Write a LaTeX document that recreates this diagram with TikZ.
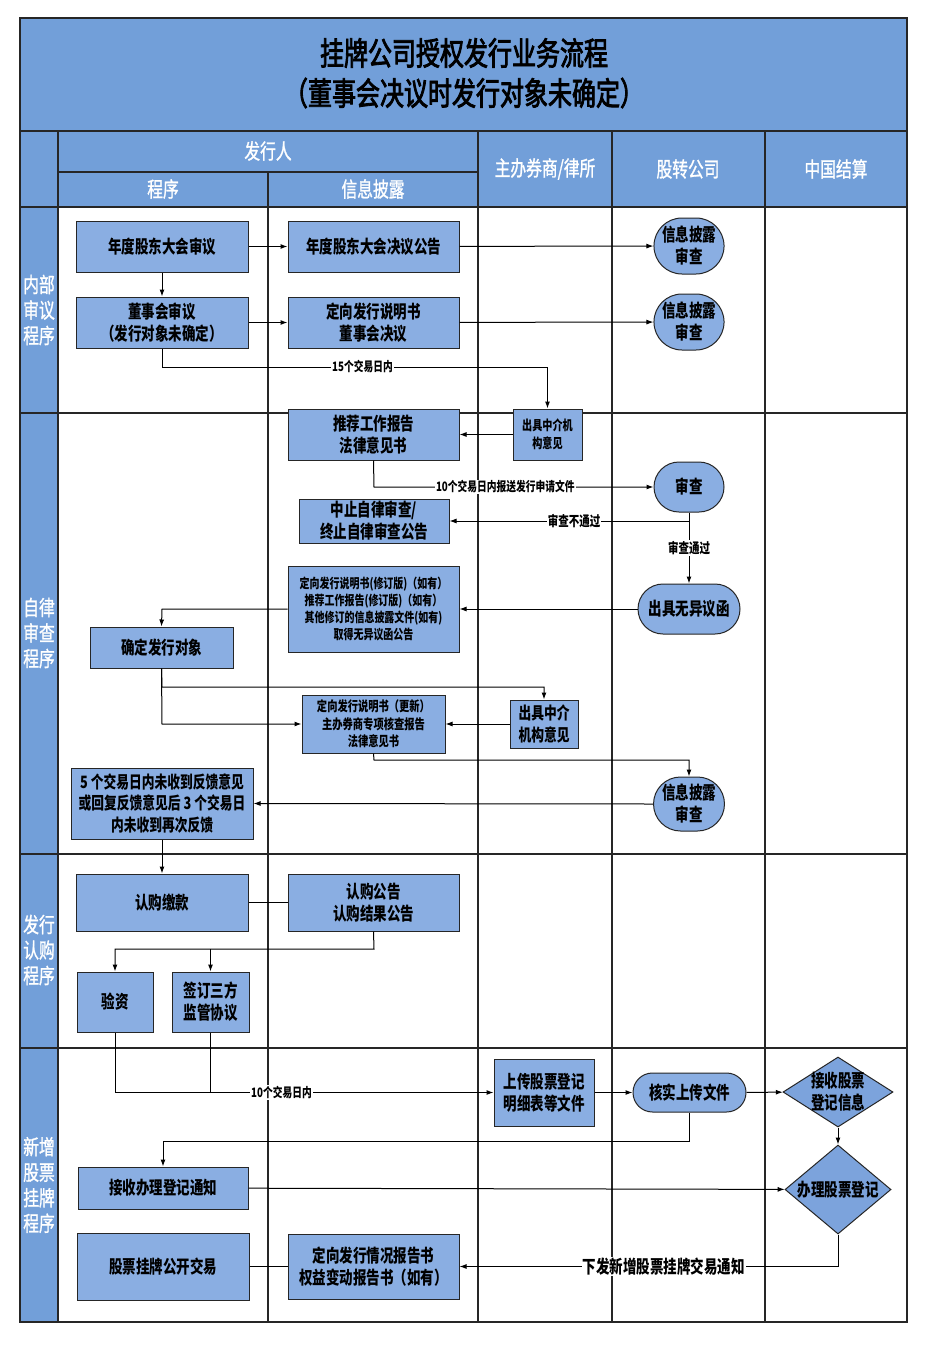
\documentclass[tikz,border=0pt]{standalone}
\usepackage{fontspec}
\setmainfont[FakeStretch=0.75]{Noto Sans CJK SC}
\newfontfamily\medfont[FakeStretch=0.75,FakeBold=1.2]{Noto Sans CJK SC}
\newfontfamily\ttlfont[FakeStretch=0.75,FakeBold=2.5]{Noto Sans CJK SC}
\usetikzlibrary{arrows.meta,shapes.geometric,shapes.misc}
\definecolor{hdr}{RGB}{114,159,217}
\definecolor{boxc}{RGB}{138,174,226}
\definecolor{diac}{RGB}{124,163,220}
\newcommand\fsz[2]{\fontsize{#1}{#2}\selectfont}
\begin{document}
\begin{tikzpicture}[x=1pt,y=-1pt,
  grid/.style={draw=black!85,line width=1.2pt},
  box/.style={draw=black!85,line width=1pt,fill=boxc,align=center,inner sep=0pt,font=\bfseries\fsz{18}{22}},
  stad/.style={box,shape=rounded rectangle},
  dia/.style={draw=black!85,line width=1pt,fill=diac,shape=diamond,inner sep=0pt},
  txt/.style={align=center,inner sep=0pt,font=\bfseries\fsz{18}{22}},
  hd/.style={text=white,align=center,inner sep=0pt,font=\medfont\fsz{21}{26}},
  ttl/.style={text=black,inner sep=0pt,font=\ttlfont\fsz{32}{38}},
  lab/.style={fill=white,inner sep=1pt,font=\bfseries\fsz{13}{15}},
  con/.style={draw=black,line width=1pt},
  arr/.style={con,-{Latex[length=7pt,width=5pt]}}]
\useasboundingbox (0,0) rectangle (932,1355);
\fill[white] (0,0) rectangle (932,1355);
% frame and lanes
\fill[hdr] (20,18) rectangle (907,207);
\fill[hdr] (20,207) rectangle (58,1322);
\draw[grid] (20,18) rectangle (907,1322);
\draw[grid] (20,131) -- (907,131);
\draw[grid] (20,207) -- (907,207);
\draw[grid] (58,172) -- (478,172);
\draw[grid] (58,131) -- (58,1322);
\draw[grid] (268,172) -- (268,1322);
\foreach \x in {478,612,765} \draw[grid] (\x,131) -- (\x,1322);
\foreach \y in {413,854,1048} \draw[grid] (20,\y) -- (907,\y);
% title
\node[ttl] (t1) at (464,53) {挂牌公司授权发行业务流程};
\node[ttl] (t2) at (464,93) {（董事会决议时发行对象未确定）};
% headers
\node[hd] (h1) at (268,151) {发行人};
\node[hd] (h2) at (163,189) {程序};
\node[hd] (h3) at (373,189) {信息披露};
\node[hd] (h4) at (545,169) {主办券商/律所};
\node[hd] (h5) at (688,169) {股转公司};
\node[hd] (h6) at (836,169) {中国结算};
% lane labels
\node[hd,font=\medfont\fsz{21}{25.5}] (l1) at (39,310) {内部\\审议\\程序};
\node[hd,font=\medfont\fsz{21}{25.5}] (l2) at (39,633) {自律\\审查\\程序};
\node[hd,font=\medfont\fsz{21}{25.5}] (l3) at (39,950) {发行\\认购\\程序};
\node[hd,font=\medfont\fsz{21}{25.5}] (l4) at (39,1185) {新增\\股票\\挂牌\\程序};
% nodes
\node[box,minimum width=172,minimum height=51] (A1) at (162,246.5) {年度股东大会审议};
\node[box,minimum width=171,minimum height=51] (A2) at (373.5,246.5) {年度股东大会决议公告};
\node[stad,minimum width=70,minimum height=56] (A3) at (689,246) {信息披露\\审查};
\node[box,minimum width=172,minimum height=51] (B1) at (162,322.5) {董事会审议\\（发行对象未确定）};
\node[box,minimum width=171,minimum height=51] (B2) at (373.5,322.5) {定向发行说明书\\董事会决议};
\node[stad,minimum width=70,minimum height=56] (B3) at (689,322) {信息披露\\审查};
\node[box,minimum width=171,minimum height=51] (C1) at (373.5,434.5) {推荐工作报告\\法律意见书};
\node[box,minimum width=69,minimum height=51,font=\bfseries\fsz{13.5}{18}] (C2) at (547.5,434.5) {出具中介机\\构意见};
\node[stad,minimum width=70,minimum height=50] (D) at (689,487) {审查};
\node[box,minimum width=150,minimum height=44] (E) at (374,521) {中止自律审查/\\终止自律审查公告};
\node[stad,minimum width=102,minimum height=50] (F) at (689,609) {出具无异议函};
\node[box,minimum width=171,minimum height=86,font=\bfseries\fsz{13.3}{17}] (G) at (373.5,609) {定向发行说明书(修订版)（如有）\\推荐工作报告(修订版)（如有）\\其他修订的信息披露文件(如有)\\取得无异议函公告};
\node[box,minimum width=143,minimum height=41] (H) at (161.5,647.5) {确定发行对象};
\node[box,minimum width=143,minimum height=58,font=\bfseries\fsz{13.7}{17.5}] (I) at (373.5,724) {定向发行说明书（更新）\\主办券商专项核查报告\\法律意见书};
\node[box,minimum width=68,minimum height=48,font=\bfseries\fsz{17}{22}] (J) at (544,724) {出具中介\\机构意见};
\node[stad,minimum width=70,minimum height=54] (K) at (689,804) {信息披露\\审查};
\node[box,minimum width=182,minimum height=71,font=\bfseries\fsz{17}{21.5}] (L) at (162,803.5) {5 个交易日内未收到反馈意见\\或回复反馈意见后 3 个交易日\\内未收到再次反馈};
\node[box,minimum width=172,minimum height=57] (M) at (162,902.5) {认购缴款};
\node[box,minimum width=171,minimum height=57] (N) at (373.5,902.5) {认购公告\\认购结果公告};
\node[box,minimum width=76,minimum height=60] (O) at (115,1002) {验资};
\node[box,minimum width=77,minimum height=60] (P) at (210.5,1002) {签订三方\\监管协议};
\node[box,minimum width=100,minimum height=67] (Q) at (544,1092.5) {上传股票登记\\明细表等文件};
\node[stad,minimum width=113,minimum height=39] (R) at (689.5,1092.5) {核实上传文件};
\node[dia,minimum width=110,minimum height=70] (S) at (838,1092) {};
\node[txt] (St) at (838,1092) {接收股票\\登记信息};
\node[dia,minimum width=106,minimum height=89] (T) at (838,1189.5) {};
\node[txt] (Tt) at (838,1189.5) {办理股票登记};
\node[box,minimum width=170,minimum height=42] (U) at (163,1188) {接收办理登记通知};
\node[box,minimum width=172,minimum height=67] (V) at (163,1266.5) {股票挂牌公开交易};
\node[box,minimum width=171,minimum height=65] (W) at (373.5,1266.5) {定向发行情况报告书\\权益变动报告书（如有）};
% helper coordinates
\coordinate (c1) at (162,367);
\coordinate (c2) at (547.5,367);
\coordinate (c3) at (374,487);
\coordinate (c4) at (689,521);
\coordinate (c5) at (162,609);
\coordinate (c6) at (162,687);
\coordinate (c7) at (544,687);
\coordinate (c8) at (162,724);
\coordinate (c9) at (374,760);
\coordinate (c10) at (689,760);
\coordinate (c11) at (374,949);
\coordinate (c12) at (115,949);
\coordinate (c13) at (210.5,949);
\coordinate (c14) at (115,1092.5);
\coordinate (c15) at (210.5,1092.5);
\coordinate (c16) at (689.5,1141);
\coordinate (c17) at (163,1141);
\coordinate (c18) at (838,1266.5);
% connectors
\draw[arr] (A1) -- (A2);
\draw[arr] (A2) -- (A3);
\draw[arr] (A1) -- (B1);
\draw[arr] (B1) -- (B2);
\draw[arr] (B2) -- (B3);
\draw[arr] (B1.south) -- (c1) -- node[lab,pos=0.52]{15个交易日内} (c2) -- (C2.north);
\draw[arr] (C2) -- (C1);
\draw[arr] (C1.south) -- (c3) -- node[lab,pos=0.47]{10个交易日内报送发行申请文件} (D.west);
\draw[arr] (D.south) -- (c4) -- node[lab,pos=0.48,font=\bfseries\fsz{14}{16}]{审查不通过} (E.east);
\draw[arr] (D.south) -- node[lab,pos=0.5,font=\bfseries\fsz{14}{16}]{审查通过} (F.north);
\draw[arr] (F) -- (G);
\draw[arr] (G.west) -- (c5) -- (H.north);
\draw[arr] (H.south) -- (c6) -- (c7) -- (J.north);
\draw[arr] (H.south) -- (c8) -- (I.west);
\draw[arr] (J) -- (I);
\draw[arr] (I.south) -- (c9) -- (c10) -- (K.north);
\draw[arr] (K.west) -- (L.east);
\draw[arr] (L) -- (M);
\draw[con] (M) -- (N);
\draw[arr] (N.south) -- (c11) -- (c12) -- (O.north);
\draw[arr] (c13) -- (P.north);
\draw[con] (P.south) -- (c15);
\draw[arr] (O.south) -- (c14) -- node[lab,pos=0.44]{10个交易日内} (Q.west);
\draw[arr] (Q) -- (R);
\draw[arr] (R) -- (S);
\draw[arr] (S) -- (T);
\draw[arr] (R.south) -- (c16) -- (c17) -- (U.north);
\draw[arr] (U) -- (T);
\draw[con] (V) -- (W);
\draw[arr] (T.south) -- (c18) -- node[lab,pos=0.46,font=\bfseries\fsz{18}{20}]{下发新增股票挂牌交易通知} (W.east);
\end{tikzpicture}
\end{document}
